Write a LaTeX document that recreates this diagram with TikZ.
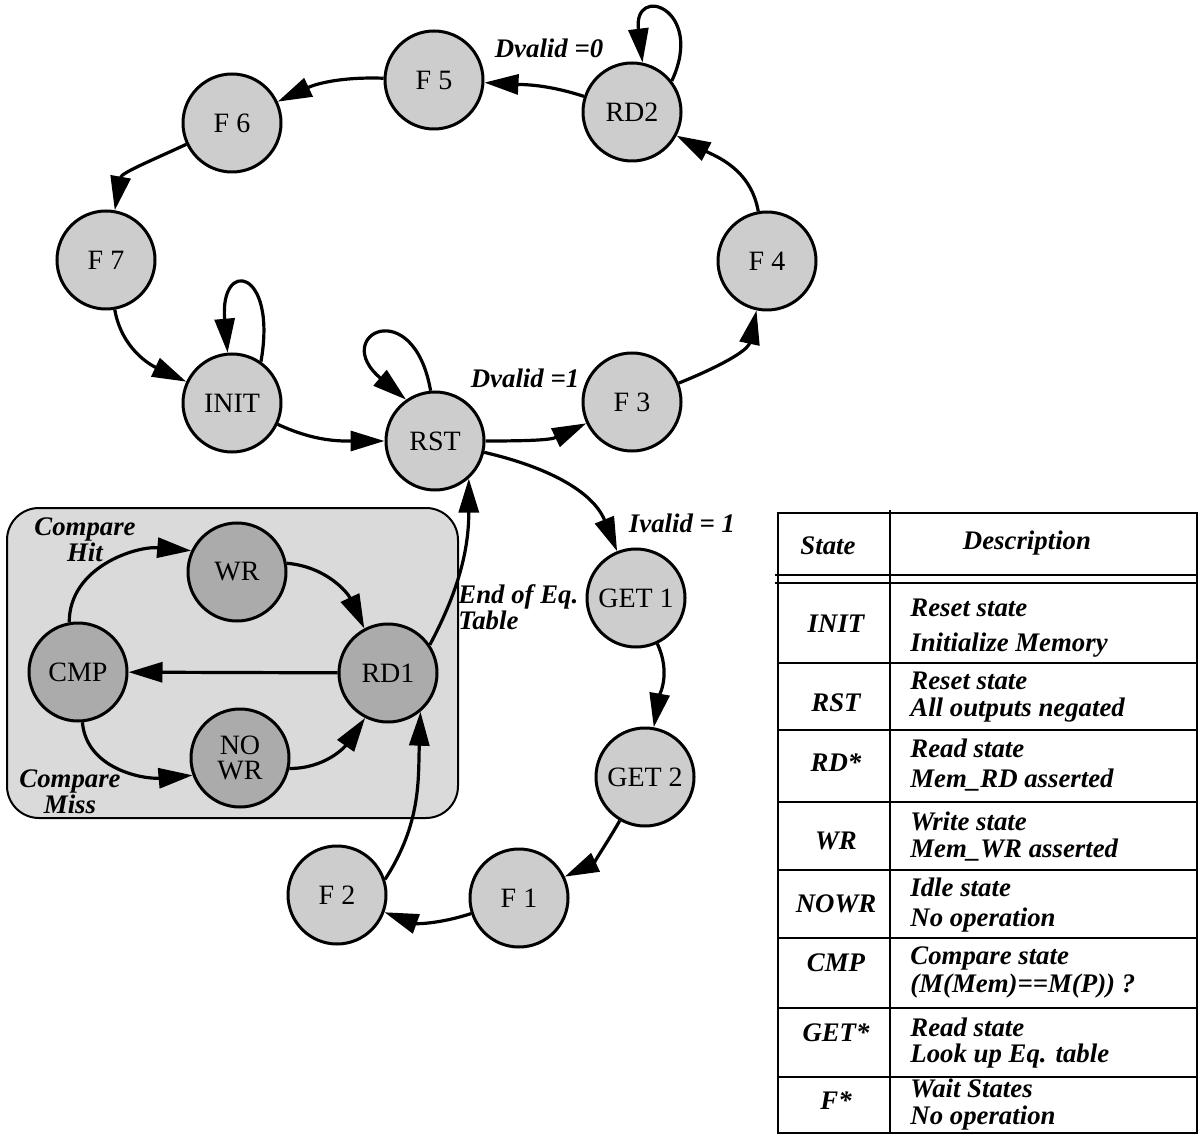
\documentclass[tikz,border=0pt]{standalone}
\usepackage{fontspec}
\setmainfont{Liberation Serif}
\usetikzlibrary{arrows.meta}
\definecolor{stategray}{HTML}{CDCDCD}
\definecolor{boxgray}{HTML}{DADADA}
\definecolor{innergray}{HTML}{ABABAB}

\begin{document}
\begin{tikzpicture}[x=50pt,y=50pt,
  stnode/.style={circle,draw,line width=1.5pt,fill=stategray,minimum size=49pt,inner sep=0pt,font=\fontsize{14}{12.5}\selectfont,align=center},
  innode/.style={stnode,fill=innergray},
  trans/.style={line width=1.6pt,-{Triangle[length=17pt,width=10pt]}},
  cond/.style={font=\fontsize{13.4}{12}\selectfont\bfseries\itshape,align=center,inner sep=0pt},
  cell/.style={font=\fontsize{13.4}{14}\selectfont\bfseries\itshape,inner sep=0pt,text height=.7em,text depth=.22em}]
\useasboundingbox (0,0) rectangle (12.02,11.36);
% Read/compare/write sub-machine sits on a shaded panel.
\draw[line width=1pt,fill=boxgray,rounded corners=16pt] (0.07,3.18) rectangle (4.58,6.28);
% Main loop of states.
\node[stnode] (F5) at (4.34,10.56) {F 5};
\node[stnode] (F6) at (2.32,10.13) {F 6};
\node[stnode] (F7) at (1.06,8.76) {F 7};
\node[stnode] (INIT) at (2.32,7.33) {INIT};
\node[stnode] (RST) at (4.35,6.95) {RST};
\node[stnode] (F3) at (6.32,7.34) {F 3};
\node[stnode] (F4) at (7.67,8.75) {F 4};
\node[stnode] (RD2) at (6.32,10.24) {RD2};
\node[stnode] (GET1) at (6.36,5.38) {GET 1};
\node[stnode] (GET2) at (6.45,3.59) {GET 2};
\node[stnode] (F1) at (5.19,2.38) {F 1};
\node[stnode] (F2) at (3.37,2.41) {F 2};
% States inside the panel.
\node[innode] (RD1) at (3.88,4.63) {RD1};
\node[innode] (CMP) at (0.78,4.64) {CMP};
\node[innode] (WR) at (2.37,5.64) {WR};
\node[innode] (NOWR) at (2.40,3.78) {NO\\WR};
% Transitions.
\draw[trans] (RD2) to[out=162,in=-3] (F5);
\draw[trans] (F5) to[out=178,in=25] (F6);
\draw[trans] (F6) to[out=205,in=80] (F7);
\draw[trans] (F7) to[out=-80,in=155] (INIT);
\draw[trans] (INIT) to[out=-25,in=180] (RST);
\draw[trans] (RST) to[out=0,in=205] (F3);
\draw[trans] (F3) to[out=22,in=258] (F4);
\draw[trans] (F4) to[out=100,in=-28] (RD2);
\draw[trans] (RST) to[out=-13,in=112] (GET1);
\draw[trans] (GET1) to[out=-65,in=80] (GET2);
\draw[trans] (GET2) to[out=240,in=25] (F1);
\draw[trans] (F1) to[out=198,in=-20] (F2);
\draw[trans] (F2.18) to[out=57,in=-92] (RD1.-50);
\draw[trans] (RD1.34) to[out=62,in=-90] (RST.-48);
\draw[trans] (CMP.100) to[out=90,in=175] (WR.155);
\draw[trans] (WR.10) to[out=-5,in=115] (RD1.118);
\draw[trans] (RD1) -- (CMP);
\draw[trans] (CMP.-85) to[out=-85,in=185] (NOWR.200);
\draw[trans] (NOWR.-12) to[out=0,in=235] (RD1.243);
% Self loops.
\draw[trans] (RD2.38) .. controls +(65:0.8) and +(97:0.8) .. (RD2.78);
\draw[trans] (INIT.55) .. controls +(80:0.95) and +(95:0.95) .. (INIT.95);
\draw[trans] (RST.95) .. controls +(100:1.0) and +(140:1.0) .. (RST.125);
% Conditions.
\node[cond] (dv0) at (5.49,10.88) {Dvalid =0};
\node[cond] (dv1) at (5.25,7.58) {Dvalid =1};
\node[cond] (iv1) at (6.82,6.13) {Ivalid = 1};
\node[cond,anchor=west,align=left] (eot) at (4.58,5.29) {End of Eq.\\Table};
\node[cond] (chit) at (0.85,5.96) {Compare\\Hit};
\node[cond] (cmiss) at (0.70,3.44) {Compare\\Miss};
% State table.
\draw[line width=1.2pt] (7.78,0.03) rectangle (11.97,6.23);
\draw[line width=1.2pt] (8.90,0.03) -- (8.90,6.26);
\draw[line width=1pt] (7.75,5.61) -- (11.97,5.61) (7.75,5.53) -- (11.97,5.53);
\foreach \y in {4.73,4.06,3.34,2.66,1.98,1.28,0.59} \draw[line width=1pt] (7.78,\y) -- (11.97,\y);
\node[cell] (hstate) at (8.28,5.86) {State};
\node[cell] (hdesc) at (10.27,5.91) {Description};
\foreach \i/\st/\ys/\ya/\yb/\la/\lb in {1/INIT/5.08/5.24/4.89/Reset state/Initialize Memory,
  2/RST/4.29/4.51/4.24/Reset state/All outputs negated,
  3/RD*/3.69/3.83/3.53/Read state/Mem\_RD asserted,
  4/WR/2.91/3.10/2.83/Write state/Mem\_WR asserted,
  5/NOWR/2.28/2.44/2.14/Idle state/No operation,
  6/CMP/1.69/1.76/1.48/Compare state/(M(Mem)==M(P)) ?,
  7/GET*/0.99/1.04/0.78/Read state/Look up Eq. table,
  8/F*/0.31/0.43/0.16/Wait States/No operation}{
  \node[cell] (st\i) at (8.36,\ys) {\st};
  \node[cell,anchor=west] (da\i) at (9.10,\ya) {\la};
  \node[cell,anchor=west] (db\i) at (9.10,\yb) {\lb};
}
\end{tikzpicture}
\end{document}
